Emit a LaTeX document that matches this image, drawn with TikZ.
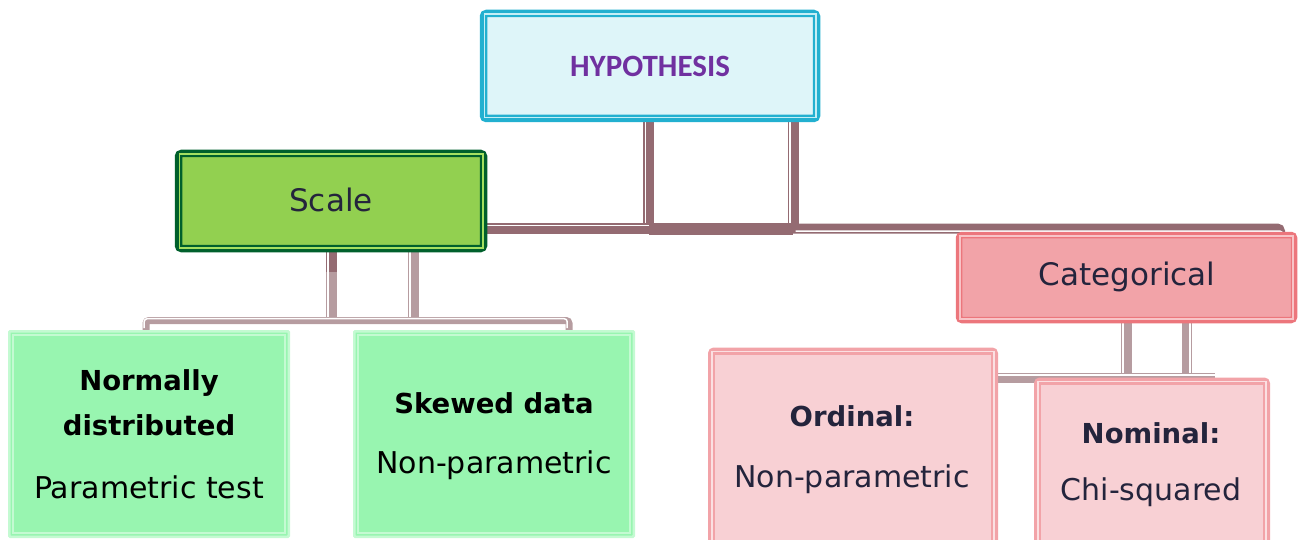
\documentclass[tikz,border=0pt]{standalone}
\usepackage{fontspec}
\setmainfont{DejaVu Sans}
\newfontfamily\headfont{Carlito}
\usetikzlibrary{calc}
\pgfdeclarelayer{background}
\pgfsetlayers{background,main}
\definecolor{hypoline}{HTML}{22B0D0}
\definecolor{hypofill}{HTML}{DEF5F9}
\definecolor{hypogap}{HTML}{C4EEF6}
\definecolor{hypotext}{HTML}{7030A0}
\definecolor{scaleline}{HTML}{00602C}
\definecolor{scalefill}{HTML}{92D050}
\definecolor{scalegap}{HTML}{A4E060}
\definecolor{catline}{HTML}{EC767C}
\definecolor{catfill}{HTML}{F2A3A8}
\definecolor{catinner}{HTML}{F8C4C7}
\definecolor{leafgfill}{HTML}{98F5B0}
\definecolor{leafgline}{HTML}{C4FAD2}
\definecolor{leafpfill}{HTML}{F8D0D4}
\definecolor{leafpline}{HTML}{F2A3A8}
\definecolor{leafpinner}{HTML}{FBE0E2}
\definecolor{darktext}{HTML}{24243C}
\definecolor{connmain}{HTML}{946B72}
\definecolor{connsub}{HTML}{B69CA0}
% a connector band with a thin white line running along one side;
% #3 is the offset of the white line from the middle of the band
\newcommand{\bandlink}[4]{%
  \draw[draw=#1, line width=#2pt, rounded corners=3pt] #4;
  \draw[draw=white, line width=1.5pt, rounded corners=3pt,
        transform canvas={shift={(#3)}}] #4;}
\begin{document}
\begin{tikzpicture}[x=1pt,y=-1pt,
  boxbase/.style={rounded corners=3pt, inner sep=0pt},
  hyporect/.style={boxbase, draw=hypoline, fill=hypofill, line width=7.5pt},
  scalerect/.style={boxbase, draw=scaleline, fill=scalefill, line width=7.5pt},
  catrect/.style={boxbase, draw=catline, fill=catfill, line width=6.5pt},
  greenleaf/.style={boxbase, rounded corners=1pt, draw=leafgline, fill=leafgfill, line width=2.5pt},
  pinkleaf/.style={boxbase, draw=leafpline, fill=leafpfill, line width=6pt},
  frameline/.style={draw=#1, line width=1.8pt, fill=none},
  headtxt/.style={font=\fontsize{31}{36}\selectfont, text=darktext},
  boldtxt/.style={font=\fontsize{27.5}{33}\selectfont\bfseries},
  plaintxt/.style={font=\fontsize{30}{36}\selectfont}
]
\useasboundingbox (0,0) rectangle (1303,540);
\clip (0,0) rectangle (1303,540);

% anchor points of the connector network
\coordinate (hj1) at (648.5,228.5);
\coordinate (hj2) at (793,228.5);
\coordinate (hr)  at (1280,228.5);
\coordinate (sj1) at (331,320.5);
\coordinate (sj2) at (413,320.5);
\coordinate (sl)  at (146,320.5);
\coordinate (sr)  at (569,320.5);
\coordinate (cj1) at (1126,377.5);
\coordinate (cj2) at (1187,377.5);
\coordinate (crr) at (1215,377.5);

% boxes
\node[hyporect, minimum width=333pt, minimum height=105pt] (hypo) at (650,66) {};
\node[scalerect, minimum width=305pt, minimum height=95pt] (scale) at (331,201) {};
\node[catrect, minimum width=335pt, minimum height=85pt] (cat) at (1126.5,277.5) {};
\node[greenleaf, minimum width=279.5pt, minimum height=205.5pt] (norm) at (149,434) {};
\node[greenleaf, minimum width=279.5pt, minimum height=205.5pt] (skew) at (494,434) {};
\node[pinkleaf, minimum width=284pt, minimum height=204pt] (ord) at (853,452.5) {};
\node[pinkleaf, minimum width=230pt, minimum height=174pt] (nom) at (1152,467.5) {};

% inner frames
\draw[frameline=hypogap, line width=1.5pt] ([shift={(4.5,4.5)}]hypo.north west) rectangle ([shift={(-4.5,-4.5)}]hypo.south east);
\draw[frameline=hypoline] ([shift={(6.4,6.4)}]hypo.north west) rectangle ([shift={(-6.4,-6.4)}]hypo.south east);
\draw[frameline=scalegap, line width=1.5pt] ([shift={(4.5,4.5)}]scale.north west) rectangle ([shift={(-4.5,-4.5)}]scale.south east);
\draw[frameline=scaleline] ([shift={(6.4,6.4)}]scale.north west) rectangle ([shift={(-6.4,-6.4)}]scale.south east);
\draw[frameline=catinner, line width=1.5pt] ([shift={(4.1,4.1)}]cat.north west) rectangle ([shift={(-4.1,-4.1)}]cat.south east);
\draw[frameline=catline, line width=1.2pt] ([shift={(5.9,5.9)}]cat.north west) rectangle ([shift={(-5.9,-5.9)}]cat.south east);
\draw[frameline=leafgline, line width=1.5pt] ([shift={(5,5)}]norm.north west) rectangle ([shift={(-5,-5)}]norm.south east);
\draw[frameline=leafgline, line width=1.5pt] ([shift={(5,5)}]skew.north west) rectangle ([shift={(-5,-5)}]skew.south east);
\draw[frameline=leafpinner, line width=1.5pt] ([shift={(4.2,4.2)}]ord.north west) rectangle ([shift={(-4.2,-4.2)}]ord.south east);
\draw[frameline=leafpline, line width=1.3pt] ([shift={(6.4,6.4)}]ord.north west) rectangle ([shift={(-6.4,-6.4)}]ord.south east);
\draw[frameline=leafpinner, line width=1.5pt] ([shift={(4.2,4.2)}]nom.north west) rectangle ([shift={(-4.2,-4.2)}]nom.south east);
\draw[frameline=leafpline, line width=1.3pt] ([shift={(6.4,6.4)}]nom.north west) rectangle ([shift={(-6.4,-6.4)}]nom.south east);

% texts
\node[font=\headfont\fontsize{31}{36}\selectfont\bfseries, text=hypotext] (thypo) at (650,66) {HYPOTHESIS};
\node[headtxt] (tscale) at (331,200) {Scale};
\node[headtxt] (tcat) at (1127,277) {Categorical};
\node[boldtxt] (tnorm1) at (149,383) {Normally};
\node[boldtxt] (tnorm2) at (149,425) {distributed};
\node[plaintxt] (tnorm3) at (149,487) {Parametric test};
\node[boldtxt] (tskew1) at (494,403) {Skewed data};
\node[plaintxt] (tskew2) at (494,465) {Non-parametric};
\node[boldtxt, text=darktext] (tord1) at (852,416) {Ordinal:};
\node[plaintxt, text=darktext] (tord2) at (852,479) {Non-parametric};
\node[boldtxt, text=darktext] (tnom1) at (1151,433) {Nominal:};
\node[plaintxt, text=darktext] (tnom2) at (1151,492) {Chi-squared};

% connectors, behind the boxes
\begin{pgfonlayer}{background}
  \bandlink{connmain}{11}{-3,0}{(hypo.south -| hj1) -- (hj1)}
  \bandlink{connmain}{11}{-3,0}{(hypo.south -| hj2) -- (hj2)}
  \bandlink{connmain}{11}{0,-3}{(scale.east |- hj1) -- (hj1)}
  \draw[draw=connmain, line width=12pt] ([yshift=-0.5pt]hj1) -- ([yshift=-0.5pt]hj2);
  \bandlink{connmain}{10}{2.5,2.5}{(hj2) -- (hr) -- (hr |- cat.north)}
  \bandlink{connsub}{11}{-3,0}{(scale.south -| sj1) -- (sj1)}
  \bandlink{connsub}{11}{-3,0}{(scale.south -| sj2) -- (sj2)}
  \draw[draw=connmain, line width=11pt] (scale.south -| sj1) -- ++(0,20);
  \draw[draw=white, line width=1.5pt, transform canvas={shift={(-3,0)}}] (scale.south -| sj1) -- ++(0,20);
  \bandlink{connsub}{7}{-1.8,-1.8}{(sl |- norm.north) -- (sl) -- (sr) -- (sr |- skew.north)}
  \bandlink{connsub}{11}{-3,0}{(cat.south -| cj1) -- (cj1)}
  \bandlink{connsub}{10}{3,0}{(cat.south -| cj2) -- (cj2)}
  \bandlink{connsub}{10}{0,-2.5}{(ord.east |- cj1) -- (crr)}
\end{pgfonlayer}
\end{tikzpicture}
\end{document}
